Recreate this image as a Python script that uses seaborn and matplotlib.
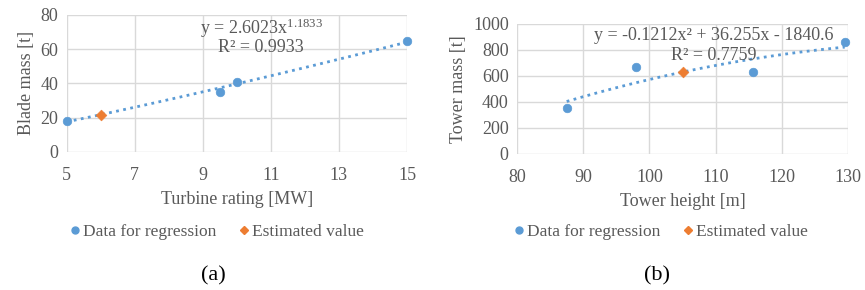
import numpy as np
import pandas as pd
import seaborn as sns
import matplotlib
matplotlib.use("Agg")
import matplotlib.pyplot as plt
from matplotlib.lines import Line2D

sns.set_theme(style="white")
plt.rcParams['font.family'] = ['Liberation Serif', 'DejaVu Serif']
plt.rcParams['mathtext.fontset'] = 'custom'
plt.rcParams['mathtext.rm'] = 'Liberation Serif'
plt.rcParams['mathtext.it'] = 'Liberation Serif'

# ---- Data (a) ----
rating_mw = [5, 9.5, 10, 15]
blade_mass_t = [18, 35, 41, 65]
est_rating_mw = [6]
est_blade_mass_t = [21.7]
pow_a, pow_b = 2.6023, 1.1833

# ---- Data (b) ----
tower_height_m = [87.5, 98, 115.6, 129.5]
tower_mass_t = [350, 670, 630, 860]
est_height_m = [105]
est_tower_mass_t = [630]
quad_c = [-0.1212, 36.255, -1840.6]

BLUE = "#5B9BD5"
ORANGE = "#ED7D31"
GREY = "#595959"
GRID = "#D9D9D9"
LEG_FONT = {'family': 'Liberation Serif', 'size': 12.5}

fig = plt.figure(figsize=(8.65, 2.9), dpi=100)
ax1 = fig.add_axes([0.0771, 0.4769, 0.3934, 0.4714])
ax2 = fig.add_axes([0.5977, 0.469, 0.3827, 0.4483])

def style(ax, xt, yt, xlim, ylim, xlabel, ylabel):
    ax.set_xlim(*xlim)
    ax.set_ylim(*ylim)
    ax.set_xticks(xt)
    ax.set_yticks(yt)
    ax.grid(True, color=GRID, linewidth=1.0)
    ax.set_axisbelow(True)
    for s in ax.spines.values():
        s.set_visible(False)
    ax.tick_params(axis='x', length=0, labelsize=13, labelcolor=GREY, pad=11)
    ax.tick_params(axis='y', length=0, labelsize=13, labelcolor=GREY, pad=6)
    ax.set_xlabel(xlabel, fontsize=13, color=GREY, labelpad=5)
    ax.set_ylabel(ylabel, fontsize=13, color=GREY, labelpad=4)

# (a)
xa = np.linspace(min(rating_mw), max(rating_mw), 100)
df_ta = pd.DataFrame({"x": xa, "y": pow_a * xa ** pow_b})
sns.lineplot(data=df_ta, x="x", y="y", ax=ax1, color=BLUE, linestyle=(0, (1, 1.6)), linewidth=2, zorder=2)
sns.scatterplot(x=rating_mw, y=blade_mass_t, ax=ax1, color=BLUE, s=38, edgecolor=BLUE, zorder=3, clip_on=False)
sns.scatterplot(x=est_rating_mw, y=est_blade_mass_t, ax=ax1, color=ORANGE, marker="D", s=30, edgecolor=ORANGE, zorder=4, clip_on=False)
style(ax1, [5, 7, 9, 11, 13, 15], [0, 20, 40, 60, 80], (5, 15), (0, 80), "Turbine rating [MW]", "Blade mass [t]")
fig.text(262 / 865, 1 - 28 / 290, r"y = 2.6023x$^{\mathrm{1.1833}}$", fontsize=13, color=GREY, ha="center", va="center")
fig.text(261 / 865, 1 - 48 / 290, "R² = 0.9933", fontsize=13, color=GREY, ha="center", va="center")

# (b)
xb = np.linspace(min(tower_height_m), max(tower_height_m), 100)
df_tb = pd.DataFrame({"x": xb, "y": np.polyval(quad_c, xb)})
sns.lineplot(data=df_tb, x="x", y="y", ax=ax2, color=BLUE, linestyle=(0, (1, 1.6)), linewidth=2, zorder=2)
sns.scatterplot(x=tower_height_m, y=tower_mass_t, ax=ax2, color=BLUE, s=38, edgecolor=BLUE, zorder=3, clip_on=False)
sns.scatterplot(x=est_height_m, y=est_tower_mass_t, ax=ax2, color=ORANGE, marker="D", s=30, edgecolor=ORANGE, zorder=4, clip_on=False)
style(ax2, [80, 90, 100, 110, 120, 130], [0, 200, 400, 600, 800, 1000], (80, 130), (0, 1000), "Tower height [m]", "Tower mass [t]")
fig.text(714 / 865, 1 - 35 / 290, "y = -0.1212x² + 36.255x - 1840.6", fontsize=13, color=GREY, ha="center", va="center")
fig.text(714 / 865, 1 - 55 / 290, "R² = 0.7759", fontsize=13, color=GREY, ha="center", va="center")

handles = [
    Line2D([], [], marker="o", color=BLUE, linestyle="none", markersize=5),
    Line2D([], [], marker="D", color=ORANGE, linestyle="none", markersize=4.5),
]
labels = ["Data for regression", "Estimated value"]
for cx in (216 / 865, 660 / 865):
    fig.legend(handles, labels, loc="center", bbox_to_anchor=(cx, 1 - 232 / 290), ncol=2, frameon=False,
               prop=LEG_FONT, labelcolor=GREY, handletextpad=0.05, columnspacing=1.2, handlelength=0.8,
               borderpad=0, borderaxespad=0)

fig.text(213 / 865, 1 - 276 / 290, "(a)", fontsize=16, color="black", ha="center", va="center")
fig.text(657 / 865, 1 - 276 / 290, "(b)", fontsize=16, color="black", ha="center", va="center")

fig.savefig("out.png", dpi=100)
